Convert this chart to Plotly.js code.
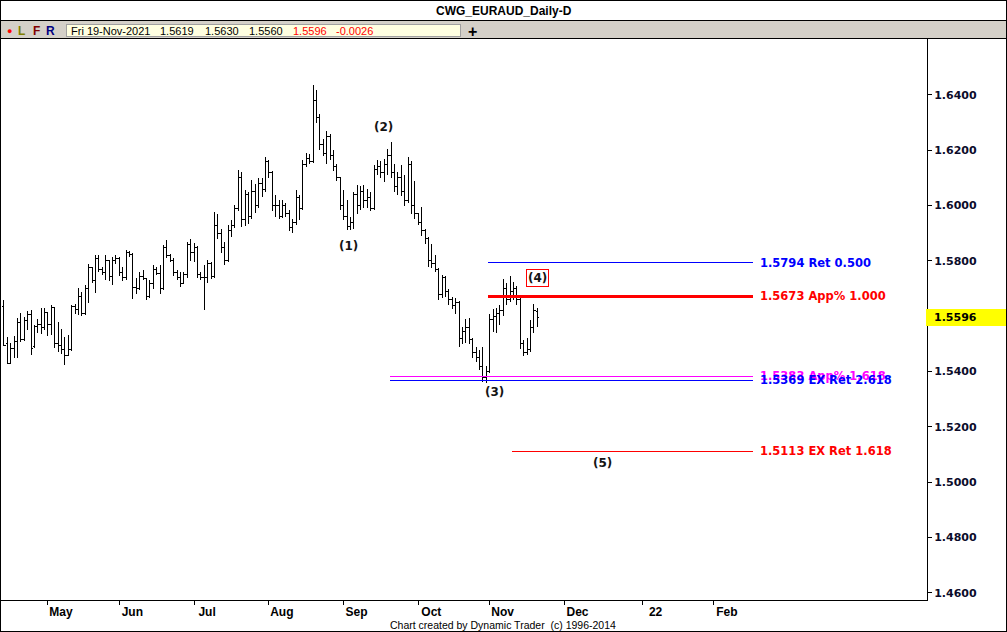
<!DOCTYPE html>
<html><head><meta charset="utf-8">
<script src="https://cdn.plot.ly/plotly-3.0.1.min.js"></script>
<style>html,body{margin:0;padding:0;background:#fff;overflow:hidden}#chart{width:1007px;height:632px}
#chart .trace path,#chart .shapelayer path{shape-rendering:crispEdges}</style>
</head><body><div id="chart"></div>
<script>
// ---------- data ----------
const symbolName = 'CWG_EURAUD_Daily-D';
const lastDateText = 'Fri 19-Nov-2021';
const footerText = 'Chart created by Dynamic Trader\u00a0 (c) 1996-2014';

// daily bars, 14-Apr-2021 .. 19-Nov-2021 (weekdays)
const openP = [
1.5634,1.5500,1.5431,1.5485,1.5510,1.5576,1.5515,1.5585,1.5605,1.5490,
1.5562,1.5570,1.5560,1.5615,1.5570,1.5630,1.5500,1.5495,1.5480,1.5460,
1.5480,1.5634,1.5623,1.5670,1.5610,1.5700,1.5775,1.5730,1.5810,1.5770,
1.5760,1.5800,1.5745,1.5800,1.5810,1.5760,1.5740,1.5830,1.5825,1.5705,
1.5700,1.5745,1.5735,1.5670,1.5720,1.5770,1.5755,1.5700,1.5850,1.5820,
1.5800,1.5760,1.5740,1.5720,1.5750,1.5860,1.5830,1.5850,1.5750,1.5740,
1.5740,1.5790,1.5745,1.5930,1.5900,1.5850,1.5800,1.5910,1.5930,1.5990,
1.6100,1.5950,1.6040,1.5960,1.6050,1.6000,1.6080,1.6060,1.6160,1.6120,
1.6000,1.6000,1.5960,1.6000,1.5970,1.5920,1.5940,1.6030,1.5990,1.6150,
1.6170,1.6160,1.6380,1.6320,1.6220,1.6190,1.6250,1.6180,1.6140,1.6100,
1.6000,1.5960,1.5925,1.5940,1.6040,1.6000,1.6050,1.6020,1.6030,1.5990,
1.6130,1.6140,1.6120,1.6150,1.6180,1.6120,1.6070,1.6100,1.6050,1.6020,
1.6150,1.6000,1.5970,1.5940,1.5910,1.5880,1.5800,1.5790,1.5770,1.5680,
1.5740,1.5690,1.5660,1.5640,1.5650,1.5520,1.5545,1.5560,1.5515,1.5470,
1.5450,1.5420,1.5380,1.5400,1.5590,1.5600,1.5610,1.5620,1.5700,1.5660,
1.5690,1.5700,1.5660,1.5500,1.5470,1.5480,1.5560,1.5619];
const highP = [
1.5659,1.5525,1.5503,1.5528,1.5594,1.5612,1.5598,1.5620,1.5623,1.5569,
1.5591,1.5630,1.5630,1.5616,1.5641,1.5635,1.5580,1.5554,1.5525,1.5532,
1.5641,1.5645,1.5702,1.5688,1.5713,1.5789,1.5780,1.5822,1.5822,1.5778,
1.5822,1.5805,1.5815,1.5822,1.5815,1.5778,1.5840,1.5836,1.5830,1.5740,
1.5760,1.5767,1.5740,1.5731,1.5785,1.5778,1.5785,1.5858,1.5876,1.5825,
1.5810,1.5767,1.5760,1.5760,1.5870,1.5880,1.5865,1.5855,1.5760,1.5785,
1.5804,1.5795,1.5977,1.5970,1.5915,1.5870,1.5930,1.5948,1.6002,1.6129,
1.6120,1.6057,1.6050,1.6093,1.6080,1.6100,1.6100,1.6176,1.6165,1.6125,
1.6040,1.6020,1.6020,1.6010,1.5984,1.5950,1.6057,1.6040,1.6165,1.6190,
1.6185,1.6436,1.6418,1.6330,1.6240,1.6270,1.6260,1.6201,1.6150,1.6105,
1.6055,1.6020,1.5960,1.6050,1.6075,1.6070,1.6075,1.6060,1.6050,1.6147,
1.6165,1.6160,1.6168,1.6205,1.6230,1.6150,1.6120,1.6147,1.6110,1.6175,
1.6160,1.6090,1.5975,1.5995,1.5915,1.5885,1.5860,1.5820,1.5775,1.5750,
1.5745,1.5700,1.5670,1.5665,1.5655,1.5560,1.5590,1.5595,1.5520,1.5490,
1.5478,1.5490,1.5420,1.5610,1.5625,1.5630,1.5640,1.5735,1.5720,1.5745,
1.5725,1.5710,1.5665,1.5515,1.5520,1.5587,1.5645,1.5630];
const lowP = [
1.5493,1.5428,1.5428,1.5449,1.5449,1.5507,1.5510,1.5550,1.5460,1.5485,
1.5540,1.5535,1.5550,1.5530,1.5532,1.5485,1.5470,1.5463,1.5424,1.5455,
1.5475,1.5610,1.5605,1.5600,1.5605,1.5648,1.5720,1.5684,1.5760,1.5750,
1.5731,1.5727,1.5713,1.5790,1.5745,1.5727,1.5731,1.5815,1.5662,1.5680,
1.5695,1.5730,1.5659,1.5665,1.5700,1.5750,1.5680,1.5695,1.5810,1.5795,
1.5745,1.5731,1.5705,1.5715,1.5740,1.5800,1.5795,1.5740,1.5730,1.5623,
1.5720,1.5735,1.5740,1.5880,1.5829,1.5785,1.5795,1.5885,1.5920,1.5980,
1.5923,1.5925,1.5935,1.5950,1.5975,1.5990,1.6030,1.6050,1.6100,1.5980,
1.5960,1.5950,1.5955,1.5960,1.5910,1.5901,1.5930,1.5948,1.5985,1.6140,
1.6150,1.6155,1.6300,1.6200,1.6180,1.6150,1.6165,1.6125,1.6090,1.5985,
1.5948,1.5912,1.5912,1.5915,1.5970,1.5985,1.5990,1.5990,1.5980,1.5985,
1.6110,1.6100,1.6085,1.6110,1.6100,1.6050,1.6040,1.6035,1.6000,1.6010,
1.5970,1.5950,1.5930,1.5890,1.5860,1.5780,1.5775,1.5760,1.5660,1.5665,
1.5670,1.5640,1.5625,1.5610,1.5490,1.5500,1.5505,1.5500,1.5450,1.5435,
1.5406,1.5362,1.5358,1.5395,1.5545,1.5540,1.5570,1.5600,1.5640,1.5650,
1.5660,1.5640,1.5480,1.5455,1.5460,1.5470,1.5540,1.5560];
const closeP = [
1.5496,1.5431,1.5485,1.5510,1.5576,1.5515,1.5585,1.5605,1.5485,1.5562,
1.5570,1.5560,1.5615,1.5570,1.5630,1.5500,1.5495,1.5480,1.5460,1.5480,
1.5634,1.5623,1.5670,1.5610,1.5700,1.5775,1.5730,1.5810,1.5770,1.5760,
1.5800,1.5745,1.5800,1.5810,1.5760,1.5740,1.5830,1.5825,1.5705,1.5700,
1.5745,1.5735,1.5670,1.5720,1.5770,1.5755,1.5700,1.5850,1.5820,1.5800,
1.5760,1.5740,1.5720,1.5750,1.5860,1.5830,1.5850,1.5750,1.5740,1.5740,
1.5790,1.5745,1.5930,1.5900,1.5850,1.5800,1.5910,1.5930,1.5990,1.6100,
1.5950,1.6040,1.5960,1.6050,1.6000,1.6080,1.6060,1.6160,1.6120,1.6000,
1.6000,1.5960,1.6000,1.5970,1.5920,1.5940,1.6030,1.5990,1.6150,1.6170,
1.6160,1.6380,1.6320,1.6220,1.6190,1.6250,1.6180,1.6140,1.6100,1.6000,
1.5960,1.5925,1.5940,1.6040,1.6000,1.6050,1.6020,1.6030,1.5990,1.6130,
1.6140,1.6120,1.6150,1.6180,1.6120,1.6070,1.6100,1.6050,1.6020,1.6150,
1.6000,1.5970,1.5940,1.5910,1.5880,1.5800,1.5790,1.5770,1.5680,1.5740,
1.5690,1.5660,1.5640,1.5650,1.5520,1.5545,1.5560,1.5515,1.5470,1.5450,
1.5420,1.5380,1.5400,1.5590,1.5600,1.5610,1.5620,1.5700,1.5660,1.5690,
1.5700,1.5660,1.5500,1.5470,1.5480,1.5560,1.5622,1.5596];

// x axis: trading-day index of first weekday of each month
const monthTickIdx  = [13, 34, 56, 78, 100, 122, 143, 165, 188, 209];
const monthTickText = ['May','Jun','Jul','Aug','Sep','Oct','Nov','Dec','22','Feb'];
// y axis ticks (1.5600 is hidden under the last-price marker)
const priceTicks = [1.46, 1.48, 1.50, 1.52, 1.54, 1.58, 1.60, 1.62, 1.64];

// projection levels
const levelValues = [1.5794, 1.5673, 1.5383, 1.5369, 1.5113];
const levelTexts  = ['Ret 0.500', 'App% 1.000', 'App% 1.618', 'EX Ret 2.618', 'EX Ret 1.618'];
const waveTexts   = ['(1)', '(2)', '(3)', '(4)', '(5)'];

// ---------- style / placement ----------
const levelStyle = [
  {color:'#0000ff', width:1, from:142.5},
  {color:'#ff0000', width:3, from:142.5},
  {color:'#ff00ff', width:1, from:113.6},
  {color:'#0000ff', width:1, from:113.6},
  {color:'#ff0000', width:1, from:149.5}
];
const levelEnd = 220.5, levelLabelX = 222;
const wavePos = [[101.3,1.5854],[111.6,1.6284],[144.5,1.5326],[157.2,1.5738],[176.3,1.5070]];

const W=1007, H=632, ML=1, MR=80, MT=39, MB=32;
const PW=W-ML-MR, PH=H-MT-MB;
const PX = p => (p-ML)/PW;
const PY = p => (H-MB-p)/PH;

const idx = openP.map((_, i) => i);
const n = closeP.length;

const trace = {
  type:'ohlc', x: idx, open: openP, high: highP, low: lowP, close: closeP,
  increasing:{line:{color:'#000', width:1}},
  decreasing:{line:{color:'#000', width:1}},
  tickwidth:0.5, showlegend:false, hoverinfo:'skip'
};

const shapes = [];
const annotations = [];

// level lines + labels
levelValues.forEach((v, k) => {
  const s = levelStyle[k];
  shapes.push({type:'line', xref:'x', yref:'y', x0:s.from, x1:levelEnd, y0:v, y1:v,
               line:{color:s.color, width:s.width}});
  annotations.push({xref:'x', yref:'y', x:levelLabelX, y:v, xanchor:'left', yanchor:'middle',
    text: v.toFixed(4) + ' ' + levelTexts[k], showarrow:false,
    font:{family:'DejaVu Sans', size:11.5, weight:'bold', color:s.color}});
});

// wave labels
waveTexts.forEach((t, k) => {
  const a = {xref:'x', yref:'y', x:wavePos[k][0], y:wavePos[k][1], text:t, showarrow:false,
    xanchor:'center', yanchor:'middle',
    font:{family:'DejaVu Sans', size:12, weight:'bold', color:'#141414'}};
  if (t === '(4)') { a.bordercolor = '#ff0000'; a.borderwidth = 1; a.borderpad = 1; }
  annotations.push(a);
});

// frame / header decorations (paper coordinates from pixels)
shapes.push({type:'rect', xref:'paper', yref:'paper', x0:PX(0.5), x1:PX(1006.5), y0:PY(20.5), y1:PY(38), fillcolor:'#d4d0c8', line:{width:0}, layer:'above'});
shapes.push({type:'line', xref:'paper', yref:'paper', x0:PX(0), x1:PX(1007), y0:PY(20.5), y1:PY(20.5), line:{color:'#000', width:1}});
shapes.push({type:'line', xref:'paper', yref:'paper', x0:PX(0), x1:PX(1007), y0:PY(38.5), y1:PY(38.5), line:{color:'#000', width:1}});
shapes.push({type:'rect', xref:'paper', yref:'paper', x0:PX(66.5), x1:PX(460), y0:PY(24), y1:PY(36.5), fillcolor:'#ffffe1', line:{color:'#a0a0a0', width:1}});
shapes.push({type:'rect', xref:'paper', yref:'paper', x0:PX(0.5), x1:PX(1006.5), y0:PY(631.5), y1:PY(0.5), line:{color:'#000', width:1}});
// last price marker
shapes.push({type:'rect', xref:'paper', yref:'paper', x0:PX(926), x1:PX(1006), y0:PY(325.5), y1:PY(308.5), fillcolor:'#ffff00', line:{width:0}, layer:'above'});

const hdrY = PY(30.5);
annotations.push({xref:'paper', yref:'paper', x:PX(503.5), y:PY(10.5), text:symbolName, showarrow:false,
  xanchor:'center', yanchor:'middle', font:{family:'Liberation Sans, Arial', size:12, weight:'bold', color:'#000'}});
[['\u25CF','#ff0000',9,9],['L','#808000',21.5,12],['F','#800000',36,12],['R','#000080',50.5,12]].forEach(b => {
  annotations.push({xref:'paper', yref:'paper', x:PX(b[2]), y:hdrY, text:b[0], showarrow:false,
    xanchor:'center', yanchor:'middle', font:{family:'Liberation Sans, Arial', size:b[3], weight:'bold', color:b[1]}});
});
const o = openP[n-1], h = highP[n-1], l = lowP[n-1], c = closeP[n-1];
const chg = c - closeP[n-2];
const infoItems = [[lastDateText,'#000',69],[o.toFixed(4),'#000',158],[h.toFixed(4),'#000',203],
  [l.toFixed(4),'#000',247],[c.toFixed(4),'#ff0000',291],[chg.toFixed(4),'#ff0000',334]];
infoItems.forEach(it => {
  annotations.push({xref:'paper', yref:'paper', x:PX(it[2]), y:hdrY, text:it[0], showarrow:false,
    xanchor:'left', yanchor:'middle', font:{family:'Liberation Sans, Arial', size:11, color:it[1]}});
});
annotations.push({xref:'paper', yref:'paper', x:PX(472.5), y:PY(31), text:'+', showarrow:false,
  xanchor:'center', yanchor:'middle', font:{family:'Liberation Sans, Arial', size:16, weight:'bold', color:'#000'}});
annotations.push({xref:'paper', yref:'y', x:PX(932), y:c, text:c.toFixed(4), showarrow:false,
  xanchor:'left', yanchor:'middle', font:{family:'DejaVu Sans', size:11, weight:'bold', color:'#000'}});
annotations.push({xref:'paper', yref:'paper', x:PX(503), y:PY(625), text:footerText, showarrow:false,
  xanchor:'center', yanchor:'middle', font:{family:'Liberation Sans Narrow, Liberation Sans, Arial', size:10.5, color:'#000'}});

const layout = {
  width:W, height:H, margin:{l:ML, r:MR, t:MT, b:MB, pad:0},
  paper_bgcolor:'#fff', plot_bgcolor:'#fff', showlegend:false, hovermode:false,
  xaxis:{range:[-0.83, 271.7], tickmode:'array', tickvals:monthTickIdx, ticktext:monthTickText,
    ticks:'outside', ticklen:4, tickcolor:'#000', tickwidth:1, showline:true, linecolor:'#000', linewidth:1,
    showgrid:false, zeroline:false, rangeslider:{visible:false}, ticklabelshift:13, ticklabelstandoff:-3,
    tickfont:{family:'Liberation Sans, Arial', size:12, weight:'bold', color:'#000'}, fixedrange:true},
  yaxis:{side:'right', range:[1.45744, 1.66024], tickmode:'array', tickvals:priceTicks, tickformat:'.4f',
    ticks:'outside', ticklen:4, tickcolor:'#000', tickwidth:1, showline:true, linecolor:'#000', linewidth:1,
    showgrid:false, zeroline:false,
    tickfont:{family:'DejaVu Sans', size:11, weight:'bold', color:'#0b0b2a'}, fixedrange:true},
  shapes:shapes, annotations:annotations
};

Plotly.newPlot('chart', [trace], layout, {staticPlot:true, displayModeBar:false});
</script>
</body></html>
